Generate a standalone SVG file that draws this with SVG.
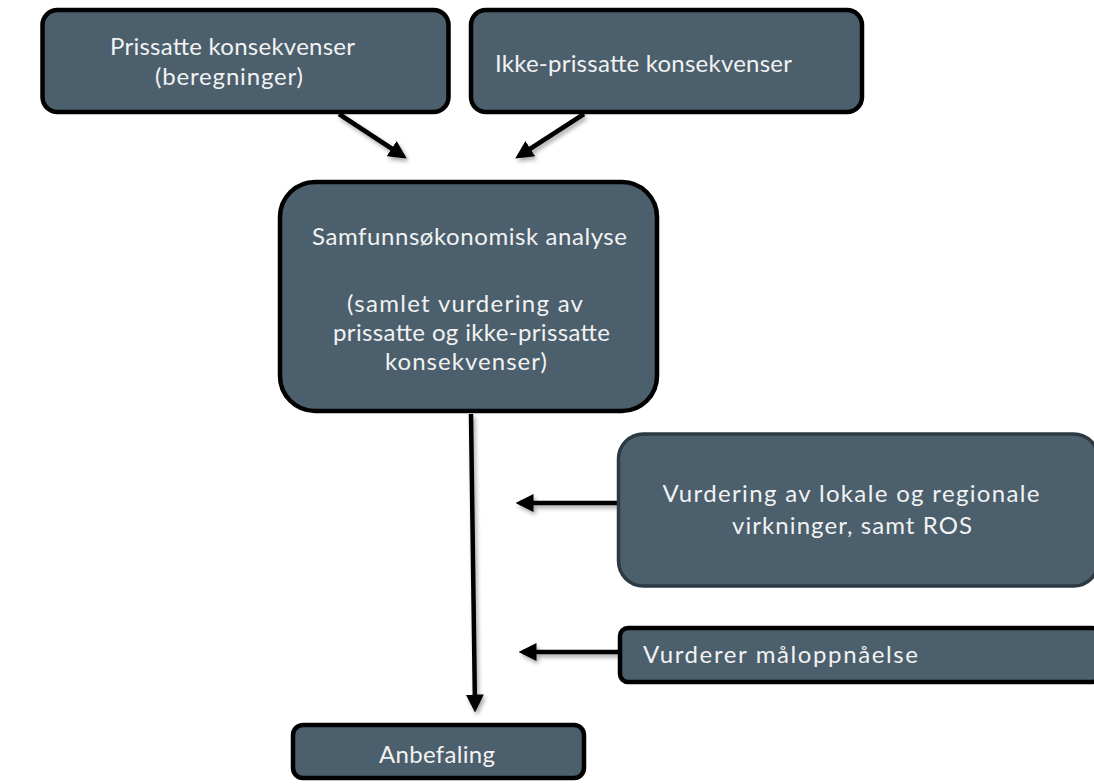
<svg xmlns="http://www.w3.org/2000/svg" width="1094" height="784" viewBox="0 0 1094 784">
<style>
.box{fill:#4b5f6c;stroke:#000;stroke-width:4.5}
.box2{fill:#4b5f6c;stroke:#2d3a43;stroke-width:3.5}
.t{font-family:Lato,"Liberation Sans",sans-serif;font-size:24px;fill:#f2f2f2}
.c{text-anchor:middle}
.ln{stroke:#000;stroke-width:4.5;fill:none}
</style>
<defs>
<marker id="ah" markerWidth="4" markerHeight="4" refX="3" refY="2" orient="auto" markerUnits="strokeWidth">
<path d="M0,0 L4,2 L0,4 Z" fill="#000"/>
</marker>
<filter id="sh" x="-20%" y="-50%" width="140%" height="200%">
<feGaussianBlur in="SourceAlpha" stdDeviation="2"/>
<feOffset dx="2" dy="3" result="b"/>
<feComponentTransfer><feFuncA type="linear" slope="0.35"/></feComponentTransfer>
<feMerge><feMergeNode/><feMergeNode in="SourceGraphic"/></feMerge>
</filter>
</defs>
<rect width="1094" height="784" fill="#fff"/>
<g id="connectors" filter="url(#sh)">
<line class="ln" x1="339" y1="114" x2="403" y2="156" marker-end="url(#ah)"/>
<line class="ln" x1="584" y1="114" x2="519" y2="156" marker-end="url(#ah)"/>
<line class="ln" x1="471" y1="414" x2="475" y2="708" marker-end="url(#ah)"/>
<line class="ln" x1="617" y1="503" x2="520" y2="503" marker-end="url(#ah)"/>
<line class="ln" x1="618" y1="652" x2="523" y2="652" marker-end="url(#ah)"/>
</g>
<g id="n1">
<rect class="box" x="42.5" y="10" width="406" height="102" rx="15"/>
<text class="t c" x="232.5" y="55" textLength="245" lengthAdjust="spacing">Prissatte konsekvenser</text>
<text class="t c" x="229" y="85" textLength="148" lengthAdjust="spacing">(beregninger)</text>
</g>
<g id="n2">
<rect class="box" x="471" y="10" width="391" height="102" rx="15"/>
<text class="t" x="495" y="72" textLength="297" lengthAdjust="spacing">Ikke-prissatte konsekvenser</text>
</g>
<g id="n3">
<rect class="box" x="280" y="182" width="377" height="229" rx="35"/>
<text class="t c" x="469.5" y="245" textLength="315" lengthAdjust="spacing">Samfunnsøkonomisk analyse</text>
<text class="t c" x="465" y="312" textLength="236" lengthAdjust="spacing">(samlet vurdering av</text>
<text class="t c" x="471.5" y="341" textLength="277" lengthAdjust="spacing">prissatte og ikke-prissatte</text>
<text class="t c" x="466" y="370" textLength="162" lengthAdjust="spacing">konsekvenser)</text>
</g>
<g id="n4">
<rect class="box2" x="618.5" y="434" width="480" height="152" rx="25"/>
<text class="t c" x="851" y="502" textLength="377" lengthAdjust="spacing">Vurdering av lokale og regionale</text>
<text class="t c" x="852" y="534" textLength="240" lengthAdjust="spacing">virkninger, samt ROS</text>
</g>
<g id="n5">
<rect class="box" x="620" y="628" width="480" height="54" rx="8"/>
<text class="t" x="643" y="663" textLength="275" lengthAdjust="spacing">Vurderer måloppnåelse</text>
</g>
<g id="n6">
<rect class="box" x="293" y="725" width="291" height="53" rx="10"/>
<text class="t c" x="437" y="763" textLength="116" lengthAdjust="spacing">Anbefaling</text>
</g>
</svg>
